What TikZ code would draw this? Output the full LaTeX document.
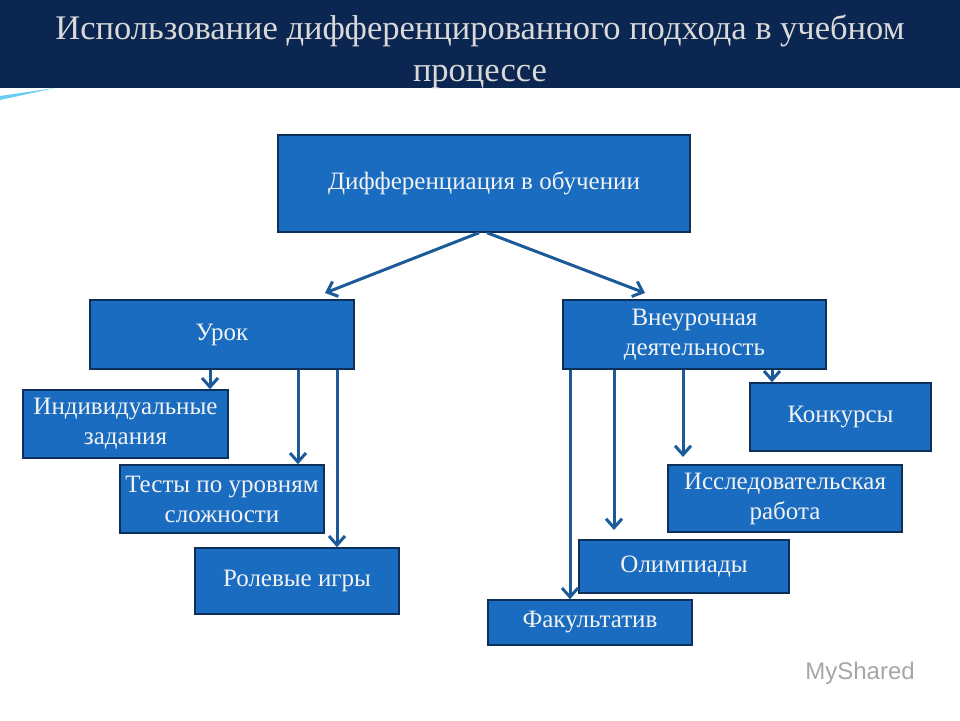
\documentclass[tikz,border=0pt]{standalone}
\usepackage{fontspec}
\setmainfont{Liberation Serif}
\newfontfamily\wmfont{Liberation Sans}
\usetikzlibrary{arrows.meta}
\definecolor{navy}{HTML}{0B2650}
\definecolor{boxblue}{HTML}{1A6CC0}
\definecolor{boxline}{HTML}{0E2F5A}
\definecolor{arr}{HTML}{1D5A9A}
\tikzset{
 bx/.style={draw=boxline,line width=1.5pt,fill=boxblue,text=white!95!black,align=center,font=\fontsize{25}{30}\selectfont,inner sep=0pt},
 ar/.style={draw=arr,line width=3pt,-{Straight Barb[length=9pt,width=16pt,line width=3pt]}}
}
\begin{document}
\begin{tikzpicture}[x=1pt,y=-1pt]
\useasboundingbox (0,0) rectangle (960,720);
\fill[white] (0,0) rectangle (960,720);
\fill[navy] (0,0) rectangle (960,88);
\fill[cyan!60!white] (0,100) -- (55,88) -- (0,96) -- cycle;
\node[text=white!85!black,align=center,font=\fontsize{34.5}{42}\selectfont] (title) at (480,52) {Использование дифференцированного подхода в учебном\\процессе};
\newcommand{\bxat}[6]{\node[bx,minimum width=#4-#2,minimum height=#5-#3] (#1) at ({(#2+#4)/2},{(#3+#5)/2}) {#6};}
\bxat{top}{278}{135}{690}{232}{Дифференциация в обучении}
\bxat{urok}{90}{300}{354}{369}{Урок}
\bxat{vne}{563}{300}{826}{369}{Внеурочная\\деятельность}
\bxat{ind}{23}{390}{228}{458}{Индивидуальные\\задания}
\bxat{test}{120}{465}{324}{533}{Тесты по уровням\\сложности}
\bxat{rol}{195}{548}{399}{614}{Ролевые игры}
\bxat{kon}{750}{383}{931}{451}{Конкурсы}
\bxat{iss}{668}{465}{902}{532}{Исследовательская\\работа}
\bxat{oli}{579}{540}{789}{593}{Олимпиады}
\bxat{fak}{488}{600}{692}{645}{Факультатив}
\draw[ar] (top.south) ++(-5,0) -- (325,293);
\draw[ar] (top.south) ++(3,0) -- (645,293);
\draw[ar] (210,370) -- (ind.north -| 210,0);
\draw[ar] (298,370) -- (test.north -| 298,0);
\draw[ar] (337,370) -- (rol.north -| 337,0);
\draw[ar] (570,370) -- (fak.north -| 570,0);
\draw[ar] (614,370) -- (614,530);
\draw[ar] (683,370) -- (683,457);
\draw[ar] (772,370) -- (kon.north -| 772,0);
\node[text=gray!70,font=\wmfont\fontsize{24}{28}\selectfont] (wm) at (860,673) {MyShared};
\end{tikzpicture}
\end{document}
